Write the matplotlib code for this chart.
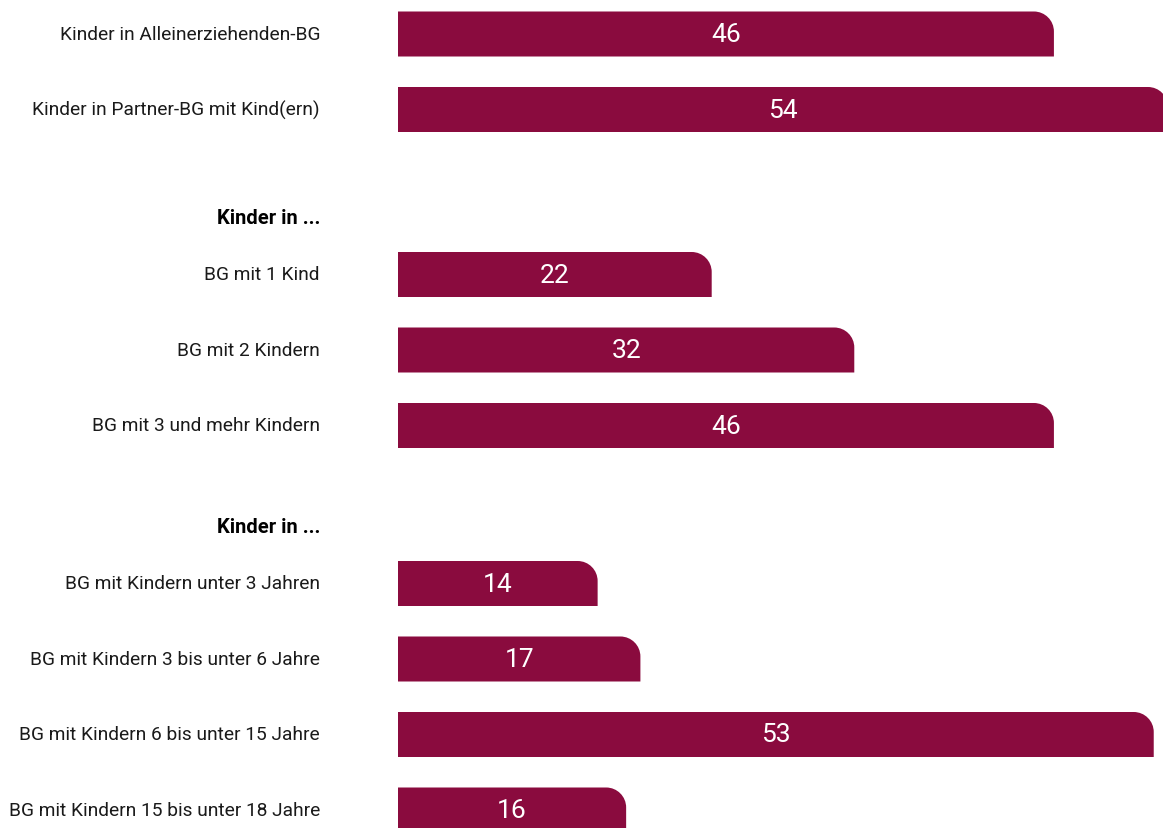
import numpy as np
import matplotlib.pyplot as plt
from matplotlib.path import Path
from matplotlib.patches import PathPatch

plt.rcParams['font.family'] = ['Roboto', 'DejaVu Sans']

# data
labels = ['Kinder in Alleinerziehenden-BG', 'Kinder in Partner-BG mit Kind(ern)',
          'Kinder in ...',
          'BG mit 1 Kind', 'BG mit 2 Kindern', 'BG mit 3 und mehr Kindern',
          'Kinder in ...',
          'BG mit Kindern unter 3 Jahren', 'BG mit Kindern 3 bis unter 6 Jahre',
          'BG mit Kindern 6 bis unter 15 Jahre',
          'BG mit Kindern 15 bis unter 18 Jahre']
values = [46, 54, None, 22, 32, 46, None, 14, 17, 53, 16]

# layout (pixel rows, y axis runs top-down)
rows = [35, 110.5, 219, 275.5, 351, 426.5, 528, 584.5, 660, 735.5, 811]
bar_h = 45
radius_px = 20
color = '#8a0b3e'

W, H = 1163, 829
fig = plt.figure(figsize=(W / 100, H / 100), dpi=100)
x0 = 398
ax = fig.add_axes([x0 / W, 0, 1 - x0 / W, 1])
xmax = 53.65
ax.set_xlim(0, xmax)
ax.set_ylim(H, 0)
ax.axis('off')

px_per_unit = (W - x0) / xmax
rx = radius_px / px_per_unit
ry = radius_px
k = 0.5523


def rounded_bar(ax, y, w):
    top, bot = y - bar_h / 2, y + bar_h / 2
    verts = [(0, bot), (0, top), (w - rx, top),
             (w - rx + k * rx, top), (w, top + ry - k * ry), (w, top + ry),
             (w, bot), (0, bot)]
    codes = [Path.MOVETO, Path.LINETO, Path.LINETO,
             Path.CURVE4, Path.CURVE4, Path.CURVE4,
             Path.LINETO, Path.CLOSEPOLY]
    ax.add_patch(PathPatch(Path(verts, codes), facecolor=color,
                           edgecolor='none', clip_on=True))


for lab, val, y in zip(labels, values, rows):
    if val is None:
        fig.text(320 / W, 1 - y / H, lab, ha='right', va='center',
                 fontsize=14.5, fontweight='bold', color='black')
        continue
    fig.text(320 / W, 1 - y / H, lab, ha='right', va='center',
             fontsize=13.8, color='#1a1a1a')
    rounded_bar(ax, y, val)
    ax.text(val / 2, y, str(val), ha='center', va='center',
            fontsize=19, color='white')

fig.savefig('out.png', dpi=100)
